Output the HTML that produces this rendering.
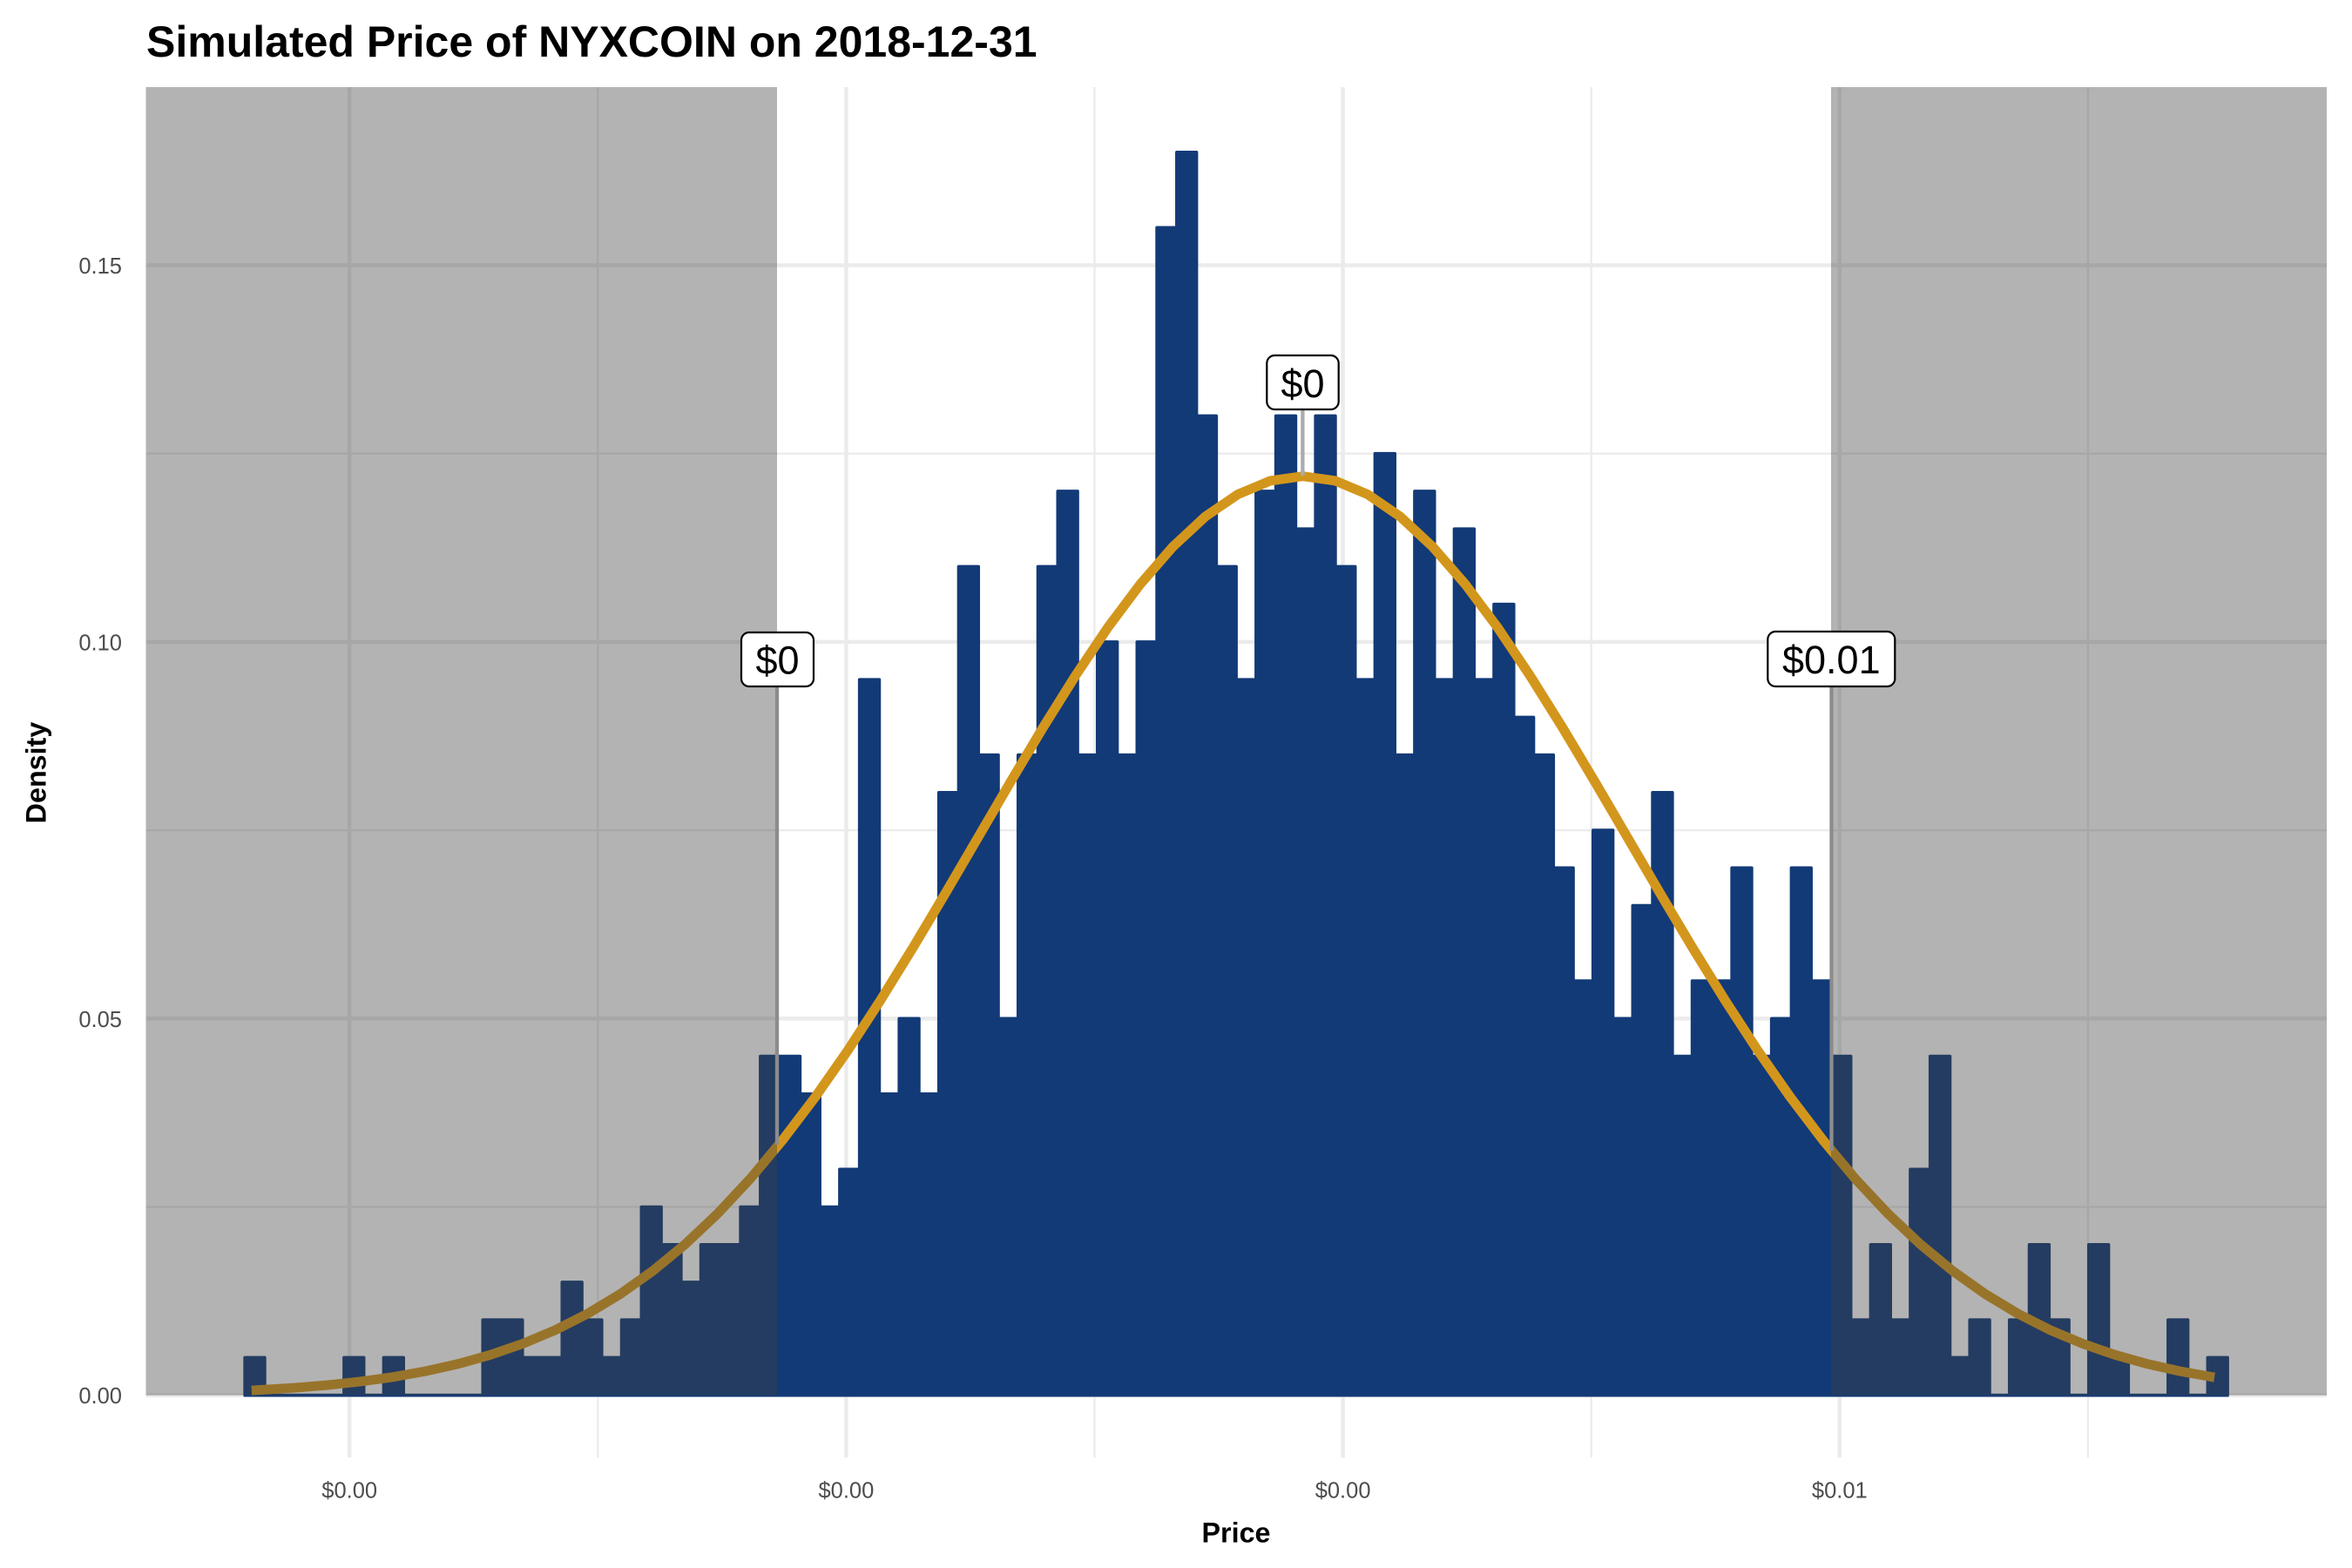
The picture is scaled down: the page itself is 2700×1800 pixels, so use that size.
<!DOCTYPE html>
<html>
<head>
<meta charset="utf-8">
<style>
  html,body{margin:0;padding:0;background:#ffffff;}
  svg{display:block;}
  text{font-family:"Liberation Sans",Arial,sans-serif;}
</style>
</head>
<body>
<svg width="2700" height="1800" viewBox="0 0 2700 1800" xmlns="http://www.w3.org/2000/svg">
  <rect x="0" y="0" width="2700" height="1800" fill="#ffffff"/>

  <!-- minor gridlines -->
  <g stroke="#EBEBEB" stroke-width="2.3" fill="none">
    <line x1="167.5" y1="1385.5" x2="2671" y2="1385.5"/>
    <line x1="167.5" y1="953.1" x2="2671" y2="953.1"/>
    <line x1="167.5" y1="520.7" x2="2671" y2="520.7"/>
    <line x1="686.3" y1="100" x2="686.3" y2="1673.2"/>
    <line x1="1256.5" y1="100" x2="1256.5" y2="1673.2"/>
    <line x1="1826.7" y1="100" x2="1826.7" y2="1673.2"/>
    <line x1="2396.9" y1="100" x2="2396.9" y2="1673.2"/>
  </g>
  <!-- major gridlines -->
  <g stroke="#EBEBEB" stroke-width="4.5" fill="none">
    <line x1="167.5" y1="1601.7" x2="2671" y2="1601.7"/>
    <line x1="167.5" y1="1169.3" x2="2671" y2="1169.3"/>
    <line x1="167.5" y1="736.9" x2="2671" y2="736.9"/>
    <line x1="167.5" y1="304.5" x2="2671" y2="304.5"/>
    <line x1="401.2" y1="100" x2="401.2" y2="1673.2"/>
    <line x1="971.4" y1="100" x2="971.4" y2="1673.2"/>
    <line x1="1541.6" y1="100" x2="1541.6" y2="1673.2"/>
    <line x1="2111.8" y1="100" x2="2111.8" y2="1673.2"/>
  </g>

  <!-- histogram -->
  <path fill="#123A77" stroke="#123A77" stroke-width="3.6" stroke-linejoin="round"
    d="M281.12 1601.7 V1558.46 H303.88 V1601.7 H394.92 V1558.46 H417.68 V1601.7 H440.44 V1558.46 H463.20 V1601.7 H554.24 V1515.22 H599.76 V1558.46 H645.28 V1471.98 H668.04 V1515.22 H690.80 V1558.46 H713.56 V1515.22 H736.32 V1385.5 H759.08 V1428.74 H781.84 V1471.98 H804.60 V1428.74 H850.12 V1385.5 H872.88 V1212.54 H918.40 V1255.78 H941.16 V1385.5 H963.92 V1342.26 H986.68 V780.14 H1009.44 V1255.78 H1032.20 V1169.3 H1054.96 V1255.78 H1077.72 V909.86 H1100.48 V650.42 H1123.24 V866.62 H1146.00 V1169.3 H1168.76 V866.62 H1191.52 V650.42 H1214.28 V563.94 H1237.04 V866.62 H1259.80 V736.9 H1282.56 V866.62 H1305.32 V736.9 H1328.08 V261.26 H1350.84 V174.78 H1373.60 V477.46 H1396.36 V650.42 H1419.12 V780.14 H1441.88 V563.94 H1464.64 V477.46 H1487.40 V607.18 H1510.16 V477.46 H1532.92 V650.42 H1555.68 V780.14 H1578.44 V520.7 H1601.20 V866.62 H1623.96 V563.94 H1646.72 V780.14 H1669.48 V607.18 H1692.24 V780.14 H1715.00 V693.66 H1737.76 V823.38 H1760.52 V866.62 H1783.28 V996.34 H1806.04 V1126.06 H1828.80 V953.1 H1851.56 V1169.3 H1874.32 V1039.58 H1897.08 V909.86 H1919.84 V1212.54 H1942.60 V1126.06 H1988.12 V996.34 H2010.88 V1212.54 H2033.64 V1169.3 H2056.40 V996.34 H2079.16 V1126.06 H2101.92 V1212.54 H2124.68 V1515.22 H2147.44 V1428.74 H2170.20 V1515.22 H2192.96 V1342.26 H2215.72 V1212.54 H2238.48 V1558.46 H2261.24 V1515.22 H2284.00 V1601.7 H2306.76 V1515.22 H2329.52 V1428.74 H2352.28 V1515.22 H2375.04 V1601.7 H2397.80 V1428.74 H2420.56 V1558.46 H2443.32 V1601.7 H2488.84 V1515.22 H2511.60 V1601.7 H2534.36 V1558.46 H2557.12 V1601.7 Z"/>

  <!-- normal curve -->
  <polyline fill="none" stroke="#D3961C" stroke-width="11" stroke-linejoin="round"
    points="288.8,1596.07 301.9,1595.39 339.2,1593.06 376.5,1589.98 413.8,1585.96 451.1,1580.77 488.4,1574.14 525.7,1565.78 563.0,1555.34 600.3,1542.47 637.6,1526.79 674.9,1507.88 712.2,1485.38 749.5,1458.91 786.8,1428.17 824.1,1392.90 861.4,1352.97 898.7,1308.35 936.0,1259.17 973.3,1205.72 1010.6,1148.49 1047.9,1088.14 1085.2,1025.56 1122.5,961.77 1159.8,898.00 1197.1,835.57 1234.4,775.90 1271.7,720.44 1309.0,670.61 1346.3,627.75 1383.6,593.06 1420.9,567.53 1458.2,551.90 1495.5,546.64 1532.8,551.90 1570.1,567.53 1607.4,593.06 1644.7,627.75 1682.0,670.61 1719.3,720.44 1756.6,775.90 1793.9,835.57 1831.2,898.00 1868.5,961.77 1905.8,1025.56 1943.1,1088.14 1980.4,1148.49 2017.7,1205.72 2055.0,1259.17 2092.3,1308.35 2129.6,1352.97 2166.9,1392.90 2204.2,1428.17 2241.5,1458.91 2278.8,1485.38 2316.1,1507.88 2353.4,1526.79 2390.7,1542.47 2428.0,1555.34 2465.3,1565.78 2502.6,1574.14 2539.9,1580.77 2542.1,1581.11"/>

  <!-- shaded tails -->
  <rect x="167.5" y="100" width="724.5" height="1501.7" fill="rgb(64,64,64)" fill-opacity="0.4"/>
  <rect x="2102" y="100" width="569" height="1501.7" fill="rgb(64,64,64)" fill-opacity="0.4"/>

  <!-- label segments -->
  <line x1="892" y1="788" x2="892" y2="1314" stroke="#8C8C8C" stroke-width="4.3"/>
  <line x1="2102.5" y1="788" x2="2102.5" y2="1321" stroke="#8C8C8C" stroke-width="4.3"/>
  <line x1="1495.4" y1="470" x2="1495.4" y2="546" stroke="#ABABAB" stroke-width="4.3"/>

  <!-- labels -->
  <g>
    <rect x="851" y="726" width="83" height="62" rx="9" ry="9" fill="#ffffff" stroke="#000000" stroke-width="2.2"/>
    <text x="892.5" y="773.5" font-size="45" text-anchor="middle" fill="#000000">$0</text>
    <rect x="1454.3" y="408" width="82.4" height="62" rx="9" ry="9" fill="#ffffff" stroke="#000000" stroke-width="2.2"/>
    <text x="1495.5" y="456" font-size="45" text-anchor="middle" fill="#000000">$0</text>
    <rect x="2029.3" y="725" width="146" height="63" rx="9" ry="9" fill="#ffffff" stroke="#000000" stroke-width="2.2"/>
    <text x="2102.3" y="773" font-size="45" text-anchor="middle" fill="#000000">$0.01</text>
  </g>

  <!-- y tick labels -->
  <g font-size="25.5" fill="#4D4D4D" text-anchor="end">
    <text x="140" y="1611.2">0.00</text>
    <text x="140" y="1178.8">0.05</text>
    <text x="140" y="746.4">0.10</text>
    <text x="140" y="314">0.15</text>
  </g>
  <!-- x tick labels -->
  <g font-size="25.5" fill="#4D4D4D" text-anchor="middle">
    <text x="401.2" y="1719.5">$0.00</text>
    <text x="971.4" y="1719.5">$0.00</text>
    <text x="1541.6" y="1719.5">$0.00</text>
    <text x="2111.8" y="1719.5">$0.01</text>
  </g>

  <!-- axis titles -->
  <text x="1419" y="1770.7" font-size="32.3" font-weight="bold" text-anchor="middle" fill="#000000">Price</text>
  <text transform="translate(52.3,887) rotate(-90)" font-size="32.3" font-weight="bold" text-anchor="middle" fill="#000000">Density</text>

  <!-- title -->
  <text x="168" y="65" font-size="50" font-weight="bold" fill="#000000">Simulated Price of NYXCOIN on 2018-12-31</text>
</svg>
</body>
</html>
